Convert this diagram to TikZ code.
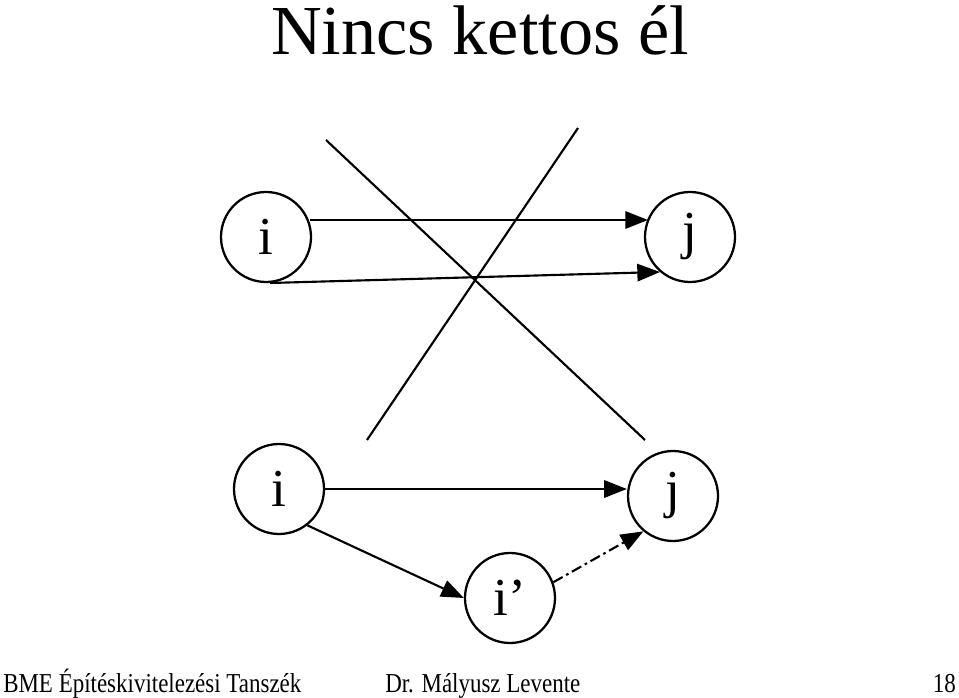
\documentclass[tikz,border=0pt]{standalone}
\usepackage{fontspec}
\setmainfont{Liberation Serif}
\newfontfamily\footfont[FakeStretch=0.84]{Liberation Serif}
\usetikzlibrary{arrows.meta}
\begin{document}
\begin{tikzpicture}[x=0.75pt,y=-0.75pt,
  vtx/.style={circle,draw,line width=1.7pt,minimum size=67.5pt,inner sep=0pt,font=\fontsize{40}{42}\selectfont},
  arr/.style={line width=1.6pt,-{Triangle[length=17pt,width=13pt]}},
  xline/.style={line width=1.6pt},
  foot/.style={anchor=base west,inner sep=0pt,font=\footfont\fontsize{20.5}{22}\selectfont}]
\useasboundingbox (0,0) rectangle (959,698);
\node[inner sep=0pt,anchor=base,font=\fontsize{52.7}{56}\selectfont] (title) at (480,55) {Nincs kettos él};
% top pair
\node[vtx] (i1) at (266,237) {i};
\node[vtx] (j1) at (690,237) {j};
\coordinate (a1s) at (310,220);
\coordinate (a1e) at (648,220);
\coordinate (a2s) at (270,283);
\coordinate (a2e) at (660,272);
\draw[arr] (a1s) -- (a1e);
\draw[arr] (a2s) -- (a2e);
% cross
\coordinate (c1a) at (326,140);
\coordinate (c1b) at (645,440);
\coordinate (c2a) at (578,128);
\coordinate (c2b) at (367,440);
\draw[xline] (c1a) -- (c1b);
\draw[xline] (c2a) -- (c2b);
% bottom
\node[vtx] (i2) at (279,489) {i};
\node[vtx] (j2) at (673,496) {j};
\node[vtx] (ip) at (510,598) {i’};
\draw[arr] (i2.east) -- (i2.east -| j2.west);
\draw[arr] (i2.-52) -- (ip.west);
\draw[arr,dash pattern=on 8pt off 3pt on 2pt off 3pt] (ip.20) -- (j2.-130);
% footer
\node[foot] (f1) at (3,692) {BME Építéskivitelezési Tanszék};
\node[foot] (f2) at (385,692) {Dr. Mályusz Levente};
\node[foot,anchor=base east] (f3) at (956,692) {18};
\end{tikzpicture}
\end{document}
